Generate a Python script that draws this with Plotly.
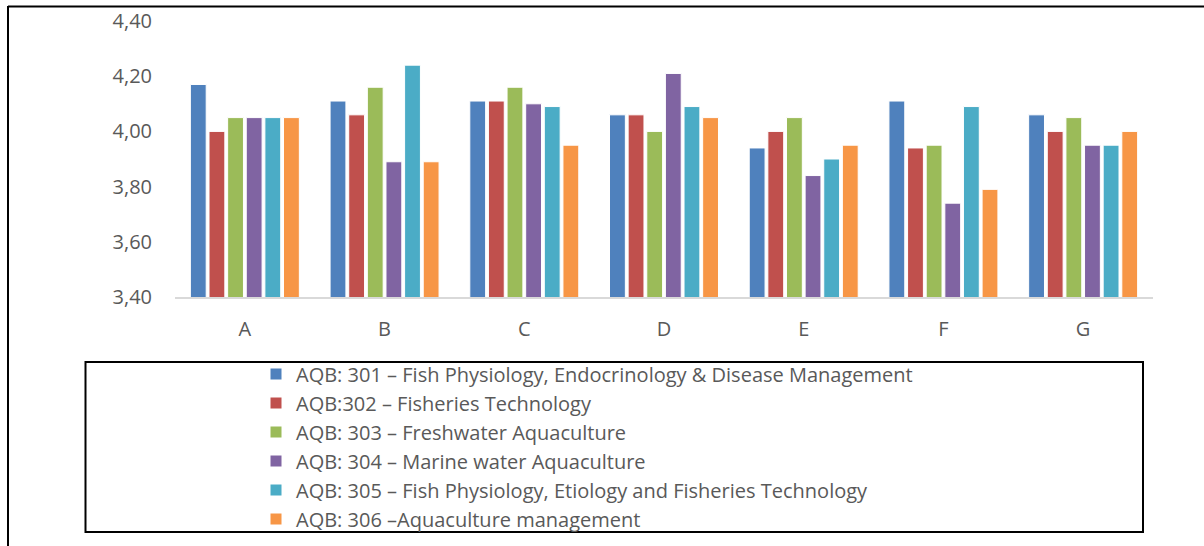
import plotly.graph_objects as go

categories = ["A", "B", "C", "D", "E", "F", "G"]

series_names = [
    "AQB: 301 – Fish Physiology, Endocrinology & Disease Management",
    "AQB:302 – Fisheries Technology",
    "AQB: 303 – Freshwater Aquaculture",
    "AQB: 304 – Marine water Aquaculture",
    "AQB: 305 – Fish Physiology, Etiology and Fisheries Technology",
    "AQB: 306 –Aquaculture management",
]

aqb301 = [4.17, 4.11, 4.11, 4.06, 3.94, 4.11, 4.06]
aqb302 = [4.00, 4.06, 4.11, 4.06, 4.00, 3.94, 4.00]
aqb303 = [4.05, 4.16, 4.16, 4.00, 4.05, 3.95, 4.05]
aqb304 = [4.05, 3.89, 4.10, 4.21, 3.84, 3.74, 3.95]
aqb305 = [4.05, 4.24, 4.09, 4.09, 3.90, 4.09, 3.95]
aqb306 = [4.05, 3.89, 3.95, 4.05, 3.95, 3.79, 4.00]

colors = ["#4F81BD", "#C0504D", "#9BBB59", "#8064A2", "#4BACC6", "#F79646"]

y_ticks = [3.40, 3.60, 3.80, 4.00, 4.20, 4.40]

all_series = [aqb301, aqb302, aqb303, aqb304, aqb305, aqb306]

fig = go.Figure()
for name, vals, col in zip(series_names, all_series, colors):
    fig.add_trace(go.Bar(
        x=categories, y=vals, name=name,
        marker=dict(color=col, line=dict(color="white", width=1)),
    ))

W, H = 1204, 546
L, R, T, B = 175, 51, 21, 249
pw, ph = W - L - R, H - T - B


def px(x):
    return (x - L) / pw


def py(y):
    return (H - B - y) / ph


shapes = [
    # outer frame (top and left)
    dict(type="line", xref="paper", yref="paper", x0=px(8), x1=px(1210), y0=py(6.5), y1=py(6.5),
         line=dict(color="black", width=2)),
    dict(type="line", xref="paper", yref="paper", x0=px(8), x1=px(8), y0=py(6), y1=py(560),
         line=dict(color="black", width=2)),
    # legend box
    dict(type="rect", xref="paper", yref="paper", x0=px(85.5), x1=px(1143), y0=py(532), y1=py(362),
         line=dict(color="black", width=2), fillcolor="rgba(0,0,0,0)"),
]

fig.update_layout(
    width=W, height=H,
    margin=dict(l=L, r=R, t=T, b=B, autoexpand=False),
    paper_bgcolor="white", plot_bgcolor="white",
    separators=",.",
    barmode="group", bargap=0.2, bargroupgap=0.15,
    font=dict(family="Open Sans", color="#595959"),
    showlegend=True,
    legend=dict(
        x=px(256), xanchor="left", y=py(354.5), yanchor="top",
        font=dict(family="Open Sans", size=20, color="#595959"),
        bgcolor="rgba(0,0,0,0)", borderwidth=0,
        traceorder="normal",
    ),
    shapes=shapes,
    xaxis=dict(
        showline=True, linecolor="#D9D9D9", linewidth=2,
        ticks="", tickfont=dict(size=20, color="#595959"),
        ticklabelstandoff=13, showgrid=False,
    ),
    yaxis=dict(
        range=[3.4, 4.4], tickvals=y_ticks, tickformat=".2f",
        showgrid=False, zeroline=False, showline=False, ticks="",
        tickfont=dict(size=20, color="#595959"),
        ticklabelstandoff=22,
    ),
)

fig.write_html(
    "out.html",
    config={"displayModeBar": False},
    post_script="document.body.style.margin='0';document.body.style.overflow='hidden';",
)
